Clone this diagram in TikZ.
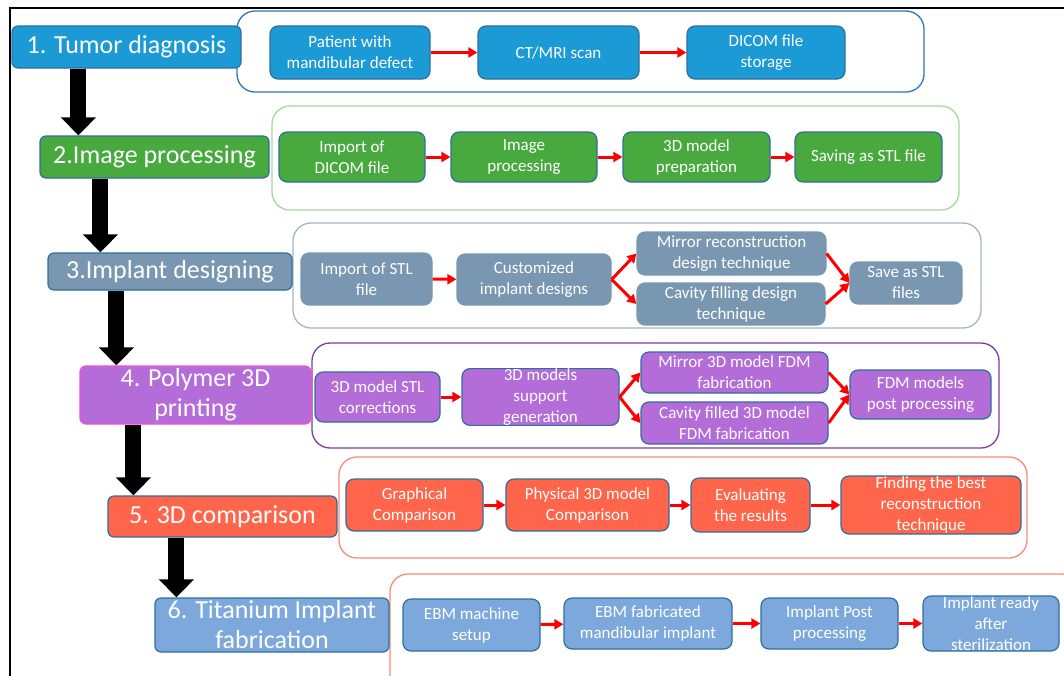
\documentclass[tikz,border=0pt]{standalone}
\usepackage{fontspec}
\setmainfont{Carlito}
\usetikzlibrary{arrows.meta}

\definecolor{edgeblue}{HTML}{2F6E9F}
\definecolor{diagblue}{HTML}{1B9AD6}
\definecolor{procgreen}{HTML}{47A93E}
\definecolor{designslate}{HTML}{7A97B1}
\definecolor{printpurple}{HTML}{B46CD8}
\definecolor{comptomato}{HTML}{FE654A}
\definecolor{fabblue}{HTML}{7DA8DB}
\definecolor{pinkedge}{HTML}{F050D0}
\definecolor{panelblue}{HTML}{2E75B6}
\definecolor{panelgreen}{HTML}{A8D5A0}
\definecolor{panelslate}{HTML}{A2B6CB}
\definecolor{panelpurple}{HTML}{7B3BA5}
\definecolor{panelred}{HTML}{F98A76}

\tikzset{
  stage/.style={draw=edgeblue, line width=1.2pt, rounded corners=6pt, text=white,
    align=center, inner sep=0pt, font=\fontsize{26}{30}\selectfont},
  task/.style={draw=edgeblue, line width=1.2pt, rounded corners=8pt, text=white,
    align=center, inner sep=0pt, font=\fontsize{17}{21}\selectfont},
  panel/.style={line width=1.3pt, rounded corners=18pt},
  flow/.style={draw=red, line width=3pt, -{Triangle[width=10pt,length=9pt]}},
  bigarrow/.style={line width=16pt, -{Triangle[width=34pt,length=18pt]}},
}

\begin{document}
\begin{tikzpicture}[x=1pt, y=-1pt]
    \useasboundingbox (0,0) rectangle (1064,675);
    \clip (0,0) rectangle (1064,675);
    \draw[line width=2pt] (10,680) -- (10,8) -- (1070,8);

    % panels behind each row
    \draw[panel, draw=panelblue] (237,11) rectangle (924,92);
    \draw[panel, draw=panelgreen] (272,106) rectangle (959,210);
    \draw[panel, draw=panelslate] (293,223) rectangle (981,328);
    \draw[panel, draw=panelpurple] (312,343) rectangle (999,448);
    \draw[panel, draw=panelred] (339,457) rectangle (1027,558);
    \draw[panel, draw=panelred] (390,574) rectangle (1080,700);

    % stages
    \node[stage, fill=diagblue, minimum width=229pt, minimum height=42pt] (s1) at (126.5,47) {1. Tumor diagnosis};
    \node[stage, fill=procgreen, minimum width=229pt, minimum height=42pt] (s2) at (154.5,157) {2.Image processing};
    \node[stage, fill=designslate, minimum width=244pt, minimum height=37pt] (s3) at (170,271.5) {3.Implant designing};
    \node[stage, fill=printpurple, draw=pinkedge, minimum width=231pt, minimum height=58pt] (s4) at (195.5,395) {4. Polymer 3D\\printing};
    \node[stage, fill=comptomato, minimum width=229pt, minimum height=41pt] (s5) at (222.5,516.5) {5. 3D comparison};
    \node[stage, fill=fabblue, minimum width=234pt, minimum height=54pt] (s6) at (272,625) {6. Titanium Implant\\fabrication};

    \draw[bigarrow] ([xshift=67pt]s1.south west) -- ([xshift=39pt]s2.north west);
    \draw[bigarrow] ([xshift=61pt]s2.south west) -- ([xshift=53pt]s3.north west);
    \draw[bigarrow] ([xshift=69pt]s3.south west) -- ([xshift=37pt]s4.north west);
    \draw[bigarrow] ([xshift=54pt]s4.south west) -- ([xshift=26pt]s5.north west);
    \draw[bigarrow] ([xshift=69pt]s5.south west) -- ([xshift=22pt]s6.north west);

    % 1. diagnosis
    \node[task, fill=diagblue, minimum width=160pt, minimum height=53pt] (p1) at (350,52.5) {Patient with\\mandibular defect};
    \node[task, fill=diagblue, minimum width=161pt, minimum height=53pt] (p2) at (558.5,52.5) {CT/MRI scan};
    \node[task, fill=diagblue, minimum width=158pt, minimum height=53pt] (p3) at (766,52.5) {DICOM file\\storage};
    \path (p1) edge[flow] (p2);
    \path (p2) edge[flow] (p3);

    % 2. image processing
    \node[task, fill=procgreen, minimum width=146pt, minimum height=50pt] (i1) at (352,157) {Import of\\DICOM file};
    \node[task, fill=procgreen, minimum width=146pt, minimum height=50pt] (i2) at (524,157) {Image\\processing};
    \node[task, fill=procgreen, minimum width=147pt, minimum height=50pt] (i3) at (696.5,157) {3D model\\preparation};
    \node[task, fill=procgreen, minimum width=147pt, minimum height=50pt] (i4) at (868.5,157) {Saving as STL file};
    \path (i1) edge[flow] (i2);
    \path (i2) edge[flow] (i3);
    \path (i3) edge[flow] (i4);

    % 3. designing
    \node[task, fill=designslate, draw=designslate, minimum width=131pt, minimum height=52pt] (d1) at (366.5,279) {Import of STL\\file};
    \node[task, fill=designslate, draw=designslate, minimum width=154pt, minimum height=51pt] (d2) at (534,279.5) {Customized\\implant designs};
    \node[task, fill=designslate, draw=designslate, minimum width=189pt, minimum height=43pt] (d3) at (731.5,253.5) {Mirror reconstruction\\design technique};
    \node[task, fill=designslate, draw=designslate, minimum width=188pt, minimum height=42pt] (d4) at (731,304) {Cavity filling design\\technique};
    \node[task, fill=designslate, draw=designslate, minimum width=112pt, minimum height=42pt] (d5) at (906,283) {Save as STL\\files};
    \path (d1) edge[flow] (d2);
    \path (d2.east) edge[flow] (d3.west);
    \path (d2.east) edge[flow] (d4.west);
    \path (d3.east) edge[flow] (d5.west);
    \path (d4.east) edge[flow] (d5.west);

    % 4. polymer printing
    \node[task, fill=printpurple, minimum width=125pt, minimum height=50pt] (f1) at (377.5,397) {3D model STL\\corrections};
    \node[task, fill=printpurple, minimum width=157pt, minimum height=54pt] (f2) at (540.5,397) {3D models\\support\\generation};
    \node[task, fill=printpurple, minimum width=187pt, minimum height=41pt] (f3) at (734.5,372.5) {Mirror 3D model FDM\\fabrication};
    \node[task, fill=printpurple, minimum width=187pt, minimum height=42pt] (f4) at (734.5,423) {Cavity filled 3D model\\FDM fabrication};
    \node[task, fill=printpurple, minimum width=141pt, minimum height=49pt] (f5) at (920.5,394.5) {FDM models\\post processing};
    \path (f1) edge[flow] (f2);
    \path (f2.east) edge[flow] (f3.west);
    \path (f2.east) edge[flow] (f4.west);
    \path (f3.east) edge[flow] (f5.west);
    \path (f4.east) edge[flow] (f5.west);

    % 5. comparison
    \node[task, fill=comptomato, minimum width=137pt, minimum height=52pt] (g1) at (414.5,505) {Graphical\\Comparison};
    \node[task, fill=comptomato, minimum width=163pt, minimum height=52pt] (g2) at (587.5,505) {Physical 3D model\\Comparison};
    \node[task, fill=comptomato, minimum width=119pt, minimum height=54pt] (g3) at (750.5,505) {Evaluating\\the results};
    \node[task, fill=comptomato, minimum width=180pt, minimum height=58pt] (g4) at (931,505) {Finding the best\\reconstruction\\technique};
    \path (g1) edge[flow] (g2);
    \path (g2) edge[flow] (g3);
    \path (g3) edge[flow] (g4);

    % 6. titanium fabrication
    \node[task, fill=fabblue, minimum width=137pt, minimum height=52pt] (t1) at (471.5,625) {EBM machine\\setup};
    \node[task, fill=fabblue, minimum width=168pt, minimum height=51pt] (t2) at (648,623.5) {EBM fabricated\\mandibular implant};
    \node[task, fill=fabblue, minimum width=137pt, minimum height=51pt] (t3) at (829.5,623.5) {Implant Post\\processing};
    \node[task, fill=fabblue, minimum width=136pt, minimum height=55pt] (t4) at (991,623.5) {Implant ready\\after\\sterilization};
    \path (t1) edge[flow] (t2);
    \path (t2) edge[flow] (t3);
    \path (t3) edge[flow] (t4);
\end{tikzpicture}
\end{document}
